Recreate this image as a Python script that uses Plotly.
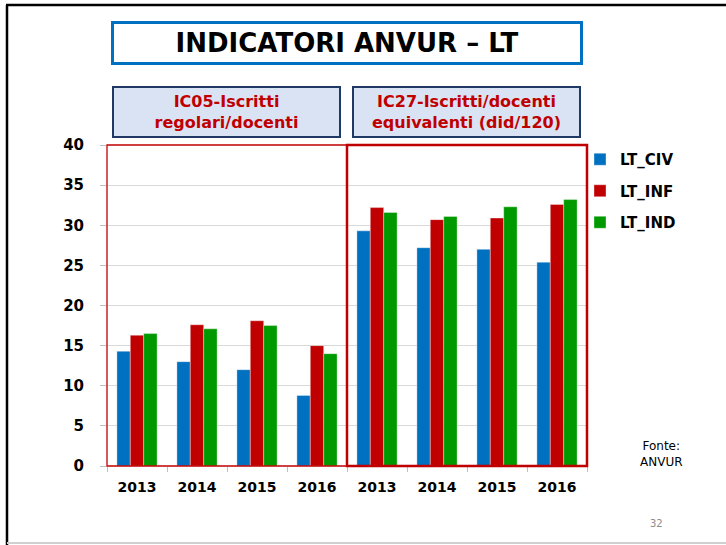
import plotly.graph_objects as go
from plotly.subplots import make_subplots

years = ["2013", "2014", "2015", "2016"]
series_names = ["LT_CIV", "LT_INF", "LT_IND"]
colors = ["#0070C0", "#C00000", "#009A00"]

# IC05 - Iscritti regolari/docenti
ic05_civ = [14.3, 13.0, 12.0, 8.8]
ic05_inf = [16.3, 17.6, 18.1, 15.0]
ic05_ind = [16.5, 17.1, 17.5, 14.0]

# IC27 - Iscritti/docenti equivalenti (did/120)
ic27_civ = [29.3, 27.2, 27.0, 25.4]
ic27_inf = [32.2, 30.7, 30.9, 32.6]
ic27_ind = [31.6, 31.1, 32.3, 33.2]

title_text = "INDICATORI ANVUR – LT"
panel_titles = ["IC05-Iscritti<br>regolari/docenti", "IC27-Iscritti/docenti<br>equivalenti (did/120)"]

FONT = "DejaVu Sans, Noto Sans, sans-serif"

fig = make_subplots(rows=1, cols=2, shared_yaxes=True, horizontal_spacing=0)

left = [ic05_civ, ic05_inf, ic05_ind]
right = [ic27_civ, ic27_inf, ic27_ind]
for i, name in enumerate(series_names):
    fig.add_trace(go.Bar(x=years, y=left[i], name=name, marker_color=colors[i],
                         marker_line=dict(color="rgba(255,255,255,0.6)", width=0.6),
                         legendgroup=name), row=1, col=1)
    fig.add_trace(go.Bar(x=years, y=right[i], name=name, marker_color=colors[i],
                         marker_line=dict(color="rgba(255,255,255,0.6)", width=0.6),
                         legendgroup=name, showlegend=False), row=1, col=2)

L, R, T, B = 107, 139, 145, 79
W, H = 726, 545
pw = W - L - R
ph = H - T - B

def px(x):
    return (x - L) / pw

def py(y):
    return (H - B - y) / ph

fig.update_layout(
    width=W, height=H,
    margin=dict(l=L, r=R, t=T, b=B),
    paper_bgcolor="white", plot_bgcolor="white",
    barmode="group", bargap=0.33, bargroupgap=0,
    font=dict(family=FONT, color="black"),
    showlegend=True,
    legend=dict(x=px(580), y=py(143), xanchor="left", yanchor="top",
                font=dict(size=15, family=FONT, color="black", weight="bold"),
                tracegroupgap=9, bgcolor="rgba(0,0,0,0)"),
)

fig.update_xaxes(domain=[0, 0.5], row=1, col=1)
fig.update_xaxes(domain=[0.5, 1], row=1, col=2)
fig.update_xaxes(showgrid=False, showline=False, ticks="outside", tickson="boundaries",
                 ticklen=5, tickcolor="#BFBFBF", ticklabelstandoff=11,
                 tickfont=dict(size=14, family=FONT, color="black", weight="bold"))
fig.update_yaxes(range=[0, 40], dtick=5, showgrid=True, gridcolor="#D9D9D9", gridwidth=1,
                 zeroline=False, showline=False)
fig.update_yaxes(ticks="outside", ticklen=6, tickcolor="#BFBFBF",
                 tickfont=dict(size=15, family=FONT, color="black", weight="bold"),
                 ticklabelstandoff=13, row=1, col=1)

shapes = [
    dict(type="rect", xref="x domain", yref="y domain", x0=0, x1=1, y0=0, y1=1,
         line=dict(color="#C00000", width=1.3), layer="above"),
    dict(type="rect", xref="x2 domain", yref="y2 domain", x0=0, x1=1, y0=0, y1=1,
         line=dict(color="#C00000", width=2.5), layer="above"),
    # slide frame
    dict(type="line", xref="paper", yref="paper", x0=px(6), x1=px(726), y0=py(5), y1=py(5),
         line=dict(color="black", width=2.5)),
    dict(type="line", xref="paper", yref="paper", x0=px(7), x1=px(7), y0=py(5), y1=py(545),
         line=dict(color="black", width=2.5)),
    dict(type="line", xref="paper", yref="paper", x0=px(7), x1=px(726), y0=py(543), y1=py(543),
         line=dict(color="#D0D0D0", width=2)),
]
fig.update_layout(shapes=shapes)

annotations = [
    dict(text=title_text, xref="paper", yref="paper", x=px(346.5), y=py(42.5),
         xanchor="center", yanchor="middle", showarrow=False,
         font=dict(size=26, family=FONT, color="black", weight="bold"),
         width=466, height=38, bgcolor="white", bordercolor="#0070C0", borderwidth=3, borderpad=0),
    dict(text=panel_titles[0], xref="paper", yref="paper", x=px(226.5), y=py(112),
         xanchor="center", yanchor="middle", showarrow=False,
         font=dict(size=16, family=FONT, color="#C00000", weight="bold"),
         width=225, height=48, bgcolor="#DAE3F3", bordercolor="#203864", borderwidth=2, borderpad=0),
    dict(text=panel_titles[1], xref="paper", yref="paper", x=px(466.5), y=py(112),
         xanchor="center", yanchor="middle", showarrow=False,
         font=dict(size=16, family=FONT, color="#C00000", weight="bold"),
         width=225, height=48, bgcolor="#DAE3F3", bordercolor="#203864", borderwidth=2, borderpad=0),
    dict(text="Fonte:<br>ANVUR", xref="paper", yref="paper", x=px(661), y=py(454),
         xanchor="center", yanchor="middle", showarrow=False,
         font=dict(size=12, family=FONT, color="black")),
    dict(text="32", xref="paper", yref="paper", x=px(656), y=py(523),
         xanchor="center", yanchor="middle", showarrow=False,
         font=dict(size=10, family=FONT, color="#8C8C8C")),
]
fig.update_layout(annotations=annotations)

fig.write_html("out.html", config={"displayModeBar": False},
               post_script="document.body.style.margin='0';")
